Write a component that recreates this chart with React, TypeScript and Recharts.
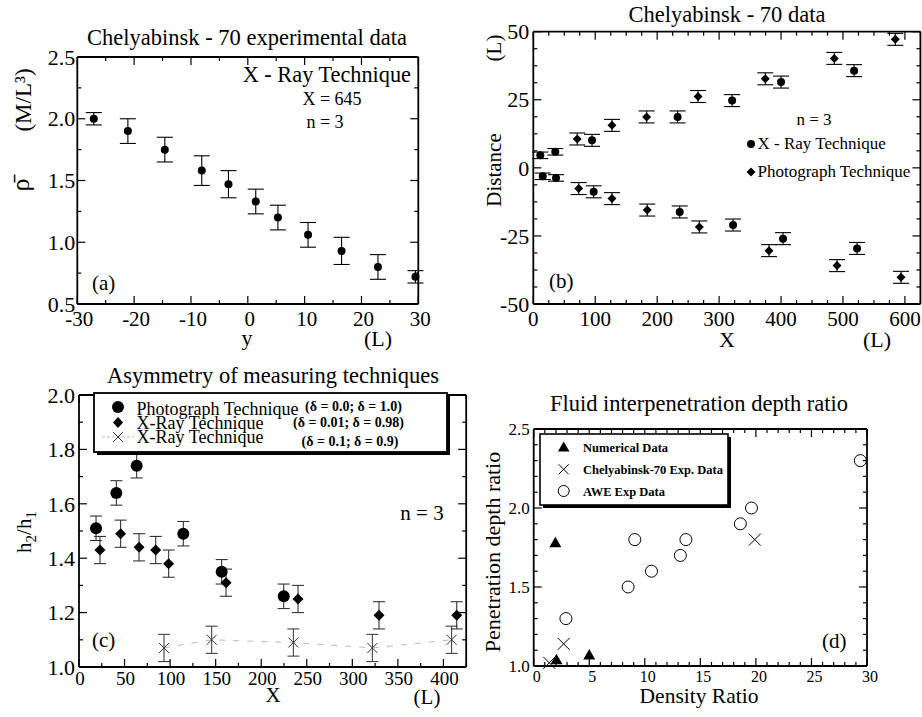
import React from 'react'
import { ScatterChart, Scatter, XAxis, YAxis, ErrorBar } from 'recharts'

const SERIF = '"Liberation Serif", "Times New Roman", serif'
const W = 922
const H = 717

// (a) X-ray density profile at X = 645
const aPos = [-27.1, -21.1, -14.6, -8.1, -3.4, 1.4, 5.3, 10.6, 16.5, 22.9, 29.5]
const aRho = [2.0, 1.9, 1.75, 1.58, 1.47, 1.33, 1.2, 1.06, 0.93, 0.8, 0.72]
const aErr = [0.05, 0.1, 0.1, 0.12, 0.11, 0.1, 0.1, 0.1, 0.11, 0.1, 0.05]

// (b) mixing zone edges
const bXrayUpX = [11.3, 35.5, 94.8, 233, 321, 400, 518]
const bXrayUpY = [4.6, 5.9, 10.1, 18.7, 24.7, 31.5, 35.7]
const bXrayLoX = [15.2, 36.7, 97.5, 236.4, 322.5, 403.2, 522.7]
const bXrayLoY = [-3.1, -3.7, -8.8, -16.2, -21, -26, -29.6]
const bPhotoUpX = [71, 127, 183, 266, 374.6, 486, 584.5]
const bPhotoUpY = [10.6, 15.6, 18.7, 26.2, 32.7, 40.2, 47.2]
const bPhotoLoX = [73.3, 127, 184, 268, 380.6, 490.4, 593.7]
const bPhotoLoY = [-7.6, -11.3, -15.5, -21.7, -30.4, -35.9, -40.2]
const bXrayErr = [1.2, 1.2, 2.2, 2.2, 2.2, 2.2, 2.2]
const bPhotoErr = 2.2

// (c) asymmetry h2/h1
const cPhotoX = [18.7, 41, 63.3, 114.5, 156.6, 224.7]
const cPhotoY = [1.51, 1.64, 1.74, 1.49, 1.35, 1.26]
const cXrayX = [23, 45.7, 65.9, 84.2, 98.4, 161.4, 240.4, 329.3, 414.6]
const cXrayY = [1.43, 1.49, 1.44, 1.43, 1.38, 1.31, 1.25, 1.19, 1.19]
const cXray2X = [93.3, 145.6, 235.3, 322, 409]
const cXray2Y = [1.07, 1.1, 1.09, 1.07, 1.1]
const cErr = 0.045

// (d) penetration depth ratio
const dNumX = [1.95, 2.05, 5.0]
const dNumY = [1.78, 1.04, 1.07]
const dChelX = [1.4, 2.7, 19.9]
const dChelY = [1.02, 1.14, 1.8]
const dAweX = [2.9, 8.5, 9.1, 10.6, 13.2, 13.7, 18.6, 19.6, 29.4]
const dAweY = [1.3, 1.5, 1.8, 1.6, 1.7, 1.8, 1.9, 2.0, 2.3]

const range = (a: number, b: number, s: number) => {
  const out: number[] = []
  for (let v = a; v <= b + s * 1e-6; v += s) out.push(Math.round(v * 1000) / 1000)
  return out
}

const toRows = (xs: number[], ys: number[], err?: number | number[]) =>
  xs.map((x, i) => ({ x, y: ys[i], err: Array.isArray(err) ? err[i] : err ?? 0 }))

function AxisTick(props: any) {
  const { x, y, payload, side, majors, fs, fmt, gap, shift = 0 } = props
  const v = payload.value
  const major = majors.some((m: number) => Math.abs(m - v) < 1e-6)
  const len = major ? 8 : 4
  const s = { stroke: '#000', strokeWidth: 1.2 }
  if (side === 'bottom')
    return (
      <g>
        <line x1={x} x2={x} y1={y} y2={y - len} {...s} />
        {major && (
          <text x={x + shift} y={y + gap} textAnchor="middle" fontSize={fs} fill="#000">
            {fmt(v)}
          </text>
        )}
      </g>
    )
  if (side === 'top') return <line x1={x} x2={x} y1={y} y2={y + len} {...s} />
  if (side === 'left')
    return (
      <g>
        <line x1={x} x2={x + len} y1={y} y2={y} {...s} />
        {major && (
          <text x={x - gap} y={y} dy="0.35em" textAnchor="end" fontSize={fs} fill="#000">
            {fmt(v)}
          </text>
        )}
      </g>
    )
  return <line x1={x} x2={x - len} y1={y} y2={y} {...s} />
}

const dot = (r: number) => (p: any) => <circle cx={p.cx} cy={p.cy} r={r} fill="#000" />
const diamond = (s: number) => (p: any) => (
  <path d={`M${p.cx},${p.cy - s}L${p.cx + s},${p.cy}L${p.cx},${p.cy + s}L${p.cx - s},${p.cy}Z`} fill="#000" />
)
const tri = (s: number) => (p: any) => (
  <path d={`M${p.cx},${p.cy - s}L${p.cx + s},${p.cy + s * 0.75}L${p.cx - s},${p.cy + s * 0.75}Z`} fill="#000" />
)
const ex = (s: number, c: string) => (p: any) => (
  <path
    d={`M${p.cx - s},${p.cy - s}L${p.cx + s},${p.cy + s}M${p.cx - s},${p.cy + s}L${p.cx + s},${p.cy - s}`}
    stroke={c}
    strokeWidth={1}
    fill="none"
  />
)
const ring = (r: number) => (p: any) => <circle cx={p.cx} cy={p.cy} r={r} fill="#fff" stroke="#000" strokeWidth={1} />
const none = () => <g />

interface PanelProps {
  x0: number
  x1: number
  y0: number
  y1: number
  xDomain: [number, number]
  yDomain: [number, number]
  xTicks: number[]
  xMajors: number[]
  yTicks: number[]
  yMajors: number[]
  xFmt: (v: number) => string
  yFmt: (v: number) => string
  xFs: number
  yFs: number
  xGap: number
  yGap: number
  xShift?: number
  children: React.ReactNode
}

// every axis is 1px thick so the plot box lands on x0..x1 / y0..y1 in page pixels
function Panel(p: PanelProps) {
  const axisLine = { stroke: '#000', strokeWidth: 1.8 }
  const margin = { top: p.y0 - 1, left: p.x0 - 1, right: W - p.x1 - 1, bottom: H - p.y1 - 1 }
  return (
    <div style={{ position: 'absolute', left: 0, top: 0 }}>
      <ScatterChart width={W} height={H} margin={margin}>
        <XAxis
          type="number"
          dataKey="x"
          domain={p.xDomain}
          ticks={p.xTicks}
          interval={0}
          height={1}
          tickSize={0}
          tickMargin={0}
          tickLine={false}
          axisLine={axisLine}
          tick={<AxisTick side="bottom" majors={p.xMajors} fs={p.xFs} fmt={p.xFmt} gap={p.xGap} shift={p.xShift} />}
        />
        <YAxis
          type="number"
          dataKey="y"
          domain={p.yDomain}
          ticks={p.yTicks}
          interval={0}
          width={1}
          tickSize={0}
          tickMargin={0}
          tickLine={false}
          axisLine={axisLine}
          tick={<AxisTick side="left" majors={p.yMajors} fs={p.yFs} fmt={p.yFmt} gap={p.yGap} />}
        />
        <XAxis
          xAxisId="top"
          orientation="top"
          type="number"
          dataKey="x"
          domain={p.xDomain}
          ticks={p.xTicks}
          interval={0}
          height={1}
          tickSize={0}
          tickMargin={0}
          tickLine={false}
          axisLine={axisLine}
          tick={<AxisTick side="top" majors={p.xMajors} />}
        />
        <YAxis
          yAxisId="right"
          orientation="right"
          type="number"
          dataKey="y"
          domain={p.yDomain}
          ticks={p.yTicks}
          interval={0}
          width={1}
          tickSize={0}
          tickMargin={0}
          tickLine={false}
          axisLine={axisLine}
          tick={<AxisTick side="right" majors={p.yMajors} />}
        />
        <Scatter
          xAxisId="top"
          yAxisId="right"
          data={[{ x: p.xDomain[0], y: p.yDomain[0] }]}
          shape={none}
          legendType="none"
          isAnimationActive={false}
        />
        {p.children}
      </ScatterChart>
    </div>
  )
}

const f1 = (v: number) => v.toFixed(1)
const f0 = (v: number) => String(Math.round(v))

export default function App() {
  const aData = toRows(aPos, aRho, aErr)
  const xrayUp = toRows(bXrayUpX, bXrayUpY, bXrayErr)
  const xrayLo = toRows(bXrayLoX, bXrayLoY, bXrayErr)
  const photoUp = toRows(bPhotoUpX, bPhotoUpY, bPhotoErr)
  const photoLo = toRows(bPhotoLoX, bPhotoLoY, bPhotoErr)
  const cPhoto = toRows(cPhotoX, cPhotoY, cErr)
  const cXray = toRows(cXrayX, cXrayY, 0.05)
  const cXray2 = toRows(cXray2X, cXray2Y, 0.05)
  const dNum = toRows(dNumX, dNumY)
  const dChel = toRows(dChelX, dChelY)
  const dAwe = toRows(dAweX, dAweY)

  const eb = (w: number, c = '#000') => (
    <ErrorBar dataKey="err" direction="y" width={w} stroke={c} strokeWidth={1.1} />
  )

  return (
    <div style={{ position: 'absolute', left: 0, top: 0, width: W, height: H, background: '#fff', fontFamily: SERIF }}>
      <Panel
        x0={77.3}
        x1={418.3}
        y0={57}
        y1={304}
        xDomain={[-30, 30]}
        yDomain={[0.5, 2.5]}
        xTicks={range(-30, 30, 5)}
        xMajors={range(-30, 30, 10)}
        yTicks={range(0.5, 2.5, 0.25)}
        yMajors={range(0.5, 2.5, 0.5)}
        xFmt={f0}
        yFmt={f1}
        xFs={21}
        yFs={22}
        xGap={22}
        yGap={2}
        xShift={2}
      >
        <Scatter data={aData} shape={dot(4)} isAnimationActive={false}>
          {eb(8)}
        </Scatter>
      </Panel>

      <Panel
        x0={533.3}
        x1={920.4}
        y0={31.7}
        y1={304}
        xDomain={[0, 625]}
        yDomain={[-50, 50]}
        xTicks={range(0, 625, 25)}
        xMajors={range(0, 600, 100)}
        yTicks={range(-50, 50, 6.25)}
        yMajors={range(-50, 50, 25)}
        xFmt={f0}
        yFmt={f0}
        xFs={21}
        yFs={22}
        xGap={22}
        yGap={4}
      >
        <Scatter data={xrayUp} shape={dot(4)} isAnimationActive={false}>
          {eb(8)}
        </Scatter>
        <Scatter data={xrayLo} shape={dot(4)} isAnimationActive={false}>
          {eb(8)}
        </Scatter>
        <Scatter data={photoUp} shape={diamond(4.5)} isAnimationActive={false}>
          {eb(8)}
        </Scatter>
        <Scatter data={photoLo} shape={diamond(4.5)} isAnimationActive={false}>
          {eb(8)}
        </Scatter>
      </Panel>

      <Panel
        x0={79}
        x1={466.2}
        y0={395}
        y1={667}
        xDomain={[0, 425]}
        yDomain={[1, 2]}
        xTicks={range(0, 425, 25)}
        xMajors={range(0, 400, 50)}
        yTicks={range(1, 2, 0.1)}
        yMajors={range(1, 2, 0.2)}
        xFmt={f0}
        yFmt={f1}
        xFs={19}
        yFs={22}
        xGap={18}
        yGap={4}
        xShift={1}
      >
        <Scatter
          data={cXray2}
          shape={ex(5, '#333')}
          line={{ stroke: '#bbb', strokeDasharray: '6 8', strokeWidth: 1 }}
          isAnimationActive={false}
        >
          {eb(6, '#444')}
        </Scatter>
        <Scatter data={cXray} shape={diamond(5.5)} isAnimationActive={false}>
          {eb(6, '#333')}
        </Scatter>
        <Scatter data={cPhoto} shape={dot(6)} isAnimationActive={false}>
          {eb(6, '#333')}
        </Scatter>
      </Panel>

      <Panel
        x0={533.7}
        x1={867}
        y0={429}
        y1={666}
        xDomain={[0, 30]}
        yDomain={[1, 2.5]}
        xTicks={range(0, 30, 1)}
        xMajors={range(0, 30, 5)}
        yTicks={range(1, 2.5, 0.1)}
        yMajors={range(1, 2.5, 0.5)}
        xFmt={f0}
        yFmt={f1}
        xFs={16}
        yFs={17}
        xGap={16}
        yGap={4}
        xShift={3}
      >
        <Scatter data={dAwe} shape={ring(6)} isAnimationActive={false} />
        <Scatter data={dChel} shape={ex(6, '#000')} isAnimationActive={false} />
        <Scatter data={dNum} shape={tri(6)} isAnimationActive={false} />
      </Panel>

      <svg
        width={W}
        height={H}
        style={{ position: 'absolute', left: 0, top: 0, pointerEvents: 'none' }}
        fontFamily={SERIF}
        fill="#000"
      >
        {/* (a) */}
        <text x={247} y={45} textAnchor="middle" fontSize={22.5}>Chelyabinsk - 70 experimental data</text>
        <text x={411} y={82} textAnchor="end" fontSize={22.3}>X - Ray Technique</text>
        <text x={332} y={105} textAnchor="middle" fontSize={18}>X = 645</text>
        <text x={325} y={128} textAnchor="middle" fontSize={18}>n = 3</text>
        <text x={92} y={290} fontSize={21}>(a)</text>
        <text x={247} y={345} textAnchor="middle" fontSize={22}>y</text>
        <text x={378} y={346} textAnchor="middle" fontSize={22}>(L)</text>
        <text transform="translate(29,185) rotate(-90)" textAnchor="middle" fontSize={26}>ρ̄</text>
        <text transform="translate(31,100) rotate(-90)" textAnchor="middle" fontSize={23}>(M/L³)</text>

        {/* (b) */}
        <text x={727} y={22} textAnchor="middle" fontSize={22.5}>Chelyabinsk - 70 data</text>
        <text x={727} y={347} textAnchor="middle" fontSize={22}>X</text>
        <text x={877} y={347} textAnchor="middle" fontSize={22}>(L)</text>
        <text transform="translate(501,170) rotate(-90)" textAnchor="middle" fontSize={21}>Distance</text>
        <text transform="translate(501,48) rotate(-90)" textAnchor="middle" fontSize={21}>(L)</text>
        <text x={814} y={125} textAnchor="middle" fontSize={17}>n = 3</text>
        <circle cx={751} cy={144} r={4} />
        <text x={757.5} y={149} fontSize={17}>X - Ray Technique</text>
        <path d="M751,167.5L755.5,172L751,176.5L746.5,172Z" />
        <text x={757.5} y={177} fontSize={17}>Photograph Technique</text>
        <text x={549} y={288} fontSize={21}>(b)</text>

        {/* (c) */}
        <text x={273} y={383} textAnchor="middle" fontSize={22.5}>Asymmetry of measuring techniques</text>
        <text x={273} y={702} textAnchor="middle" fontSize={21}>X</text>
        <text x={427} y={704} textAnchor="middle" fontSize={21}>(L)</text>
        <text transform="translate(31,532) rotate(-90)" textAnchor="middle" fontSize={21}>
          h<tspan dy={5} fontSize={15}>2</tspan>
          <tspan dy={-5}>/h</tspan>
          <tspan dy={5} fontSize={15}>1</tspan>
        </text>
        <text x={422} y={520} textAnchor="middle" fontSize={21}>n = 3</text>
        <text x={92} y={647} fontSize={21}>(c)</text>
        <rect x={97} y={396} width={353} height={59} fill="#000" />
        <rect x={94} y={393} width={353} height={59} fill="#fff" stroke="#000" strokeWidth={1.8} />
        <circle cx={118} cy={407} r={6} />
        <text x={136.5} y={415} fontSize={18}>Photograph Technique</text>
        <text x={305} y={411} fontSize={14} fontWeight="bold">(δ = 0.0; δ = 1.0)</text>
        <path d="M118,417L123,422.5L118,428L113,422.5Z" />
        <text x={136.5} y={429} fontSize={18}>X-Ray Technique</text>
        <text x={293} y={427} fontSize={14} fontWeight="bold">(δ = 0.01; δ = 0.98)</text>
        <line x1={102} x2={134} y1={437} y2={437} stroke="#bbb" strokeDasharray="3 2" />
        <path d="M113,432L123,442M113,442L123,432" stroke="#333" fill="none" />
        <text x={136.5} y={443} fontSize={18}>X-Ray Technique</text>
        <text x={301.5} y={446} fontSize={14} fontWeight="bold">(δ = 0.1; δ = 0.9)</text>

        {/* (d) */}
        <text x={699} y={411} textAnchor="middle" fontSize={22.5}>Fluid interpenetration depth ratio</text>
        <text x={699} y={703} textAnchor="middle" fontSize={21.5}>Density Ratio</text>
        <text transform="translate(500,552) rotate(-90)" textAnchor="middle" fontSize={22}>Penetration depth ratio</text>
        <text x={822} y={648} fontSize={21}>(d)</text>
        <rect x={543} y={437} width={188} height={71} fill="#000" />
        <rect x={540} y={434} width={188} height={71} fill="#fff" stroke="#000" strokeWidth={1.6} />
        <path d="M563.7,441.5L569.5,451.5L557.9,451.5Z" />
        <text x={583} y={452} fontSize={12.5} fontWeight="bold">Numerical Data</text>
        <path d="M558.7,464.3L568.7,474.3M558.7,474.3L568.7,464.3" stroke="#000" fill="none" />
        <text x={583} y={474} fontSize={12.5} fontWeight="bold">Chelyabinsk-70 Exp. Data</text>
        <circle cx={563.7} cy={491} r={5.5} fill="#fff" stroke="#000" />
        <text x={583} y={496} fontSize={12.5} fontWeight="bold">AWE Exp Data</text>
      </svg>
    </div>
  )
}
